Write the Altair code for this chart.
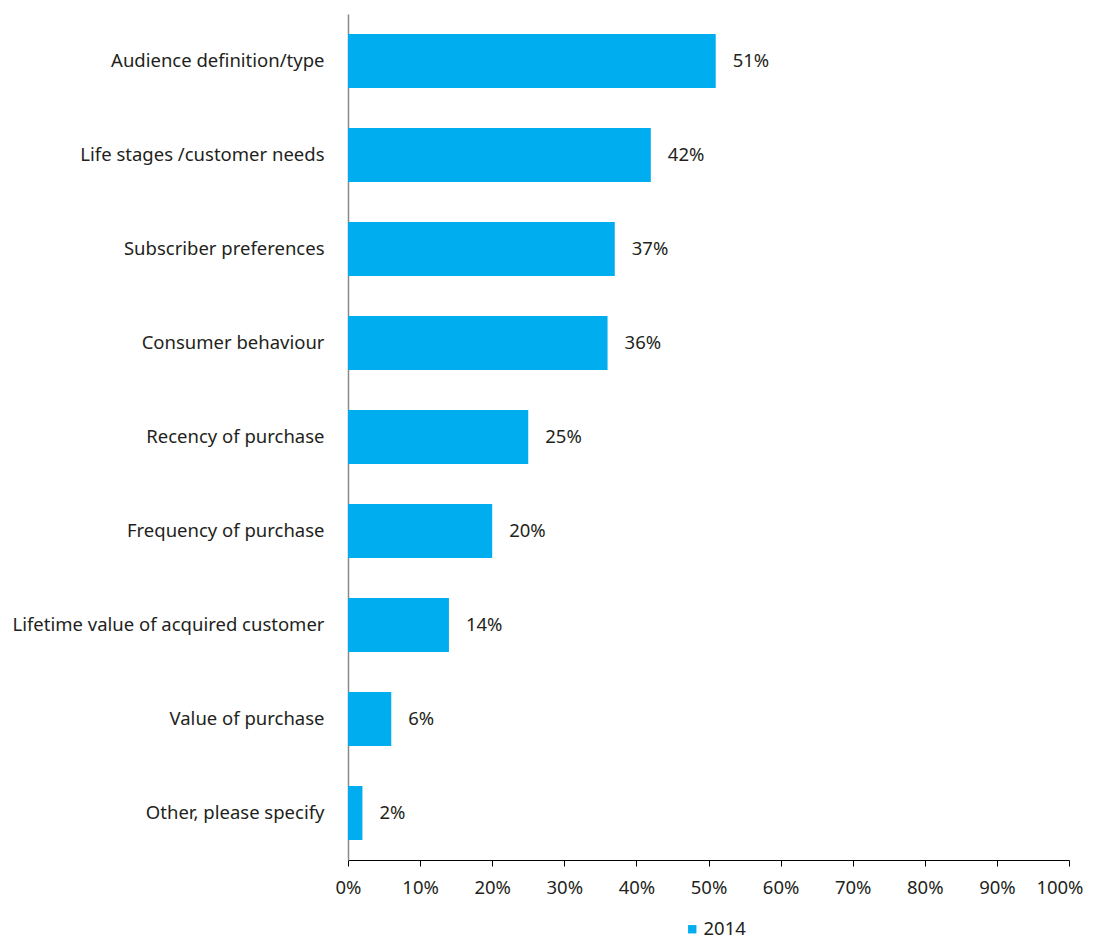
import altair as alt
import pandas as pd

categories = [
    "Audience definition/type",
    "Life stages /customer needs",
    "Subscriber preferences",
    "Consumer behaviour",
    "Recency of purchase",
    "Frequency of purchase",
    "Lifetime value of acquired customer",
    "Value of purchase",
    "Other, please specify",
]
values = [0.51, 0.42, 0.37, 0.36, 0.25, 0.20, 0.14, 0.06, 0.02]
series = ["2014"] * len(categories)
x_ticks = [i / 10 for i in range(11)]

df = pd.DataFrame({"category": categories, "value": values, "series": series})

FONT = "Noto Sans"
TXT = "#231f20"
FS = 18.5

y_enc = alt.Y(
    "category:N",
    sort=categories,
    scale=alt.Scale(paddingInner=0.426, paddingOuter=0.213),
    axis=alt.Axis(
        title=None, ticks=False, domainColor="#8a8a8a", domainWidth=1.5,
        labelFont=FONT, labelFontSize=FS, labelColor=TXT, labelPadding=24,
        labelLimit=400,
    ),
)
x_enc = alt.X(
    "value:Q",
    scale=alt.Scale(domain=[0, 1]),
    axis=alt.Axis(
        title=None, values=x_ticks, format=".0%", grid=False,
        domainColor="#000000", tickColor="#000000", tickSize=6,
        labelFont=FONT, labelFontSize=FS, labelColor=TXT, labelPadding=12,
        labelFlush=False,
        labelAlign=alt.ExprRef("datum.value >= 0.999 ? 'right' : 'center'"),
        labelOffset=alt.ExprRef("datum.value >= 0.999 ? 14 : 0"),
    ),
)

bars = alt.Chart(df).mark_bar(color="#00AEEF").encode(
    x=x_enc,
    y=y_enc,
    color=alt.Color(
        "series:N",
        scale=alt.Scale(range=["#00AEEF"]),
        legend=alt.Legend(
            title=None, orient="none", legendX=335, legendY=906,
            symbolType="square", symbolSize=70, symbolStrokeWidth=0,
            labelFont=FONT, labelFontSize=FS, labelColor=TXT, labelOffset=2,
        ),
    ),
)

labels = alt.Chart(df).mark_text(
    align="left", baseline="middle", dx=17, font=FONT, fontSize=FS, color=TXT
).encode(
    x="value:Q",
    y=alt.Y("category:N", sort=categories),
    text=alt.Text("value:Q", format=".0%"),
)

chart = (
    alt.layer(bars, labels)
    .properties(
        width=721, height=846,
        background="white",
        autosize=alt.AutoSizeParams(type="none"),
        padding={"left": 340, "top": 6, "right": 16, "bottom": 80},
    )
    .configure_view(strokeWidth=0, stroke=None)
)

chart.save("out.html", embed_options={"renderer": "svg", "actions": False})
